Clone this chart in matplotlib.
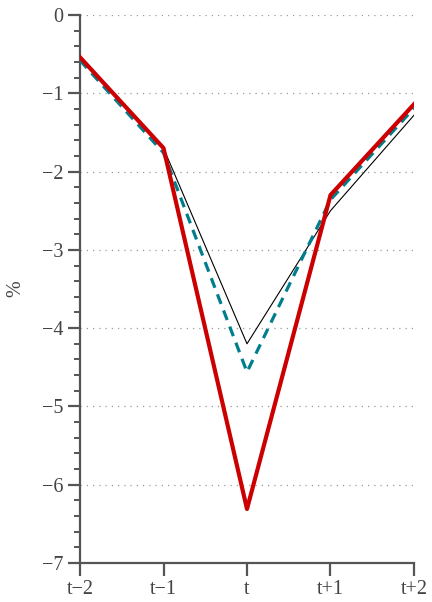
import matplotlib
matplotlib.use("Agg")
import matplotlib.pyplot as plt
from matplotlib.ticker import MultipleLocator

periods = ["t\u22122", "t\u22121", "t", "t+1", "t+2"]
series_black = [-0.54, -1.70, -4.20, -2.50, -1.28]
series_teal = [-0.58, -1.76, -4.56, -2.36, -1.19]
series_red = [-0.54, -1.70, -6.31, -2.30, -1.14]
yticks = [0, -1, -2, -3, -4, -5, -6, -7]
ytick_labels = ["0", "\u22121", "\u22122", "\u22123", "\u22124", "\u22125", "\u22126", "\u22127"]

plt.rcParams['font.family'] = ['Liberation Serif', 'DejaVu Serif']

fig = plt.figure(figsize=(4.32, 6.02), dpi=100)
ax = fig.add_axes([80/432, 39/602, 334/432, 548/602])

x = list(range(len(periods)))
ax.plot(x, series_black, color="black", lw=0.8, zorder=3)
ax.plot(x, series_teal, color="#007E8E", lw=2.3, ls=(0, (3.2, 2.2)), zorder=4)
ax.plot(x, series_red, color="#CC0000", lw=3.0, zorder=5)

ax.set_xlim(0, 4)
ax.set_ylim(-7, 0)
ax.set_xticks(x)
ax.set_xticklabels(periods)
ax.set_yticks(yticks)
ax.set_yticklabels(ytick_labels)
ax.yaxis.set_minor_locator(MultipleLocator(0.2))

ax.grid(axis="y", which="major", color="#999999", ls=(0, (1, 4)), lw=0.9)
ax.set_axisbelow(True)

for s in ["top", "right"]:
    ax.spines[s].set_visible(False)
for s in ["left", "bottom"]:
    ax.spines[s].set_color("#555555")
    ax.spines[s].set_linewidth(1.6)
ax.spines["left"].set_bounds(-7, 0)

ax.tick_params(axis="both", which="major", length=9, width=1.6, color="#555555",
               labelcolor="#444444", labelsize=14.5, pad=3)
ax.tick_params(axis="y", which="minor", length=4.5, width=1.4, color="#555555")
ax.set_ylabel("%", fontsize=14.5, color="#444444")
ax.yaxis.set_label_coords(-0.165, 0.5)

fig.savefig("out.png", dpi=100)
